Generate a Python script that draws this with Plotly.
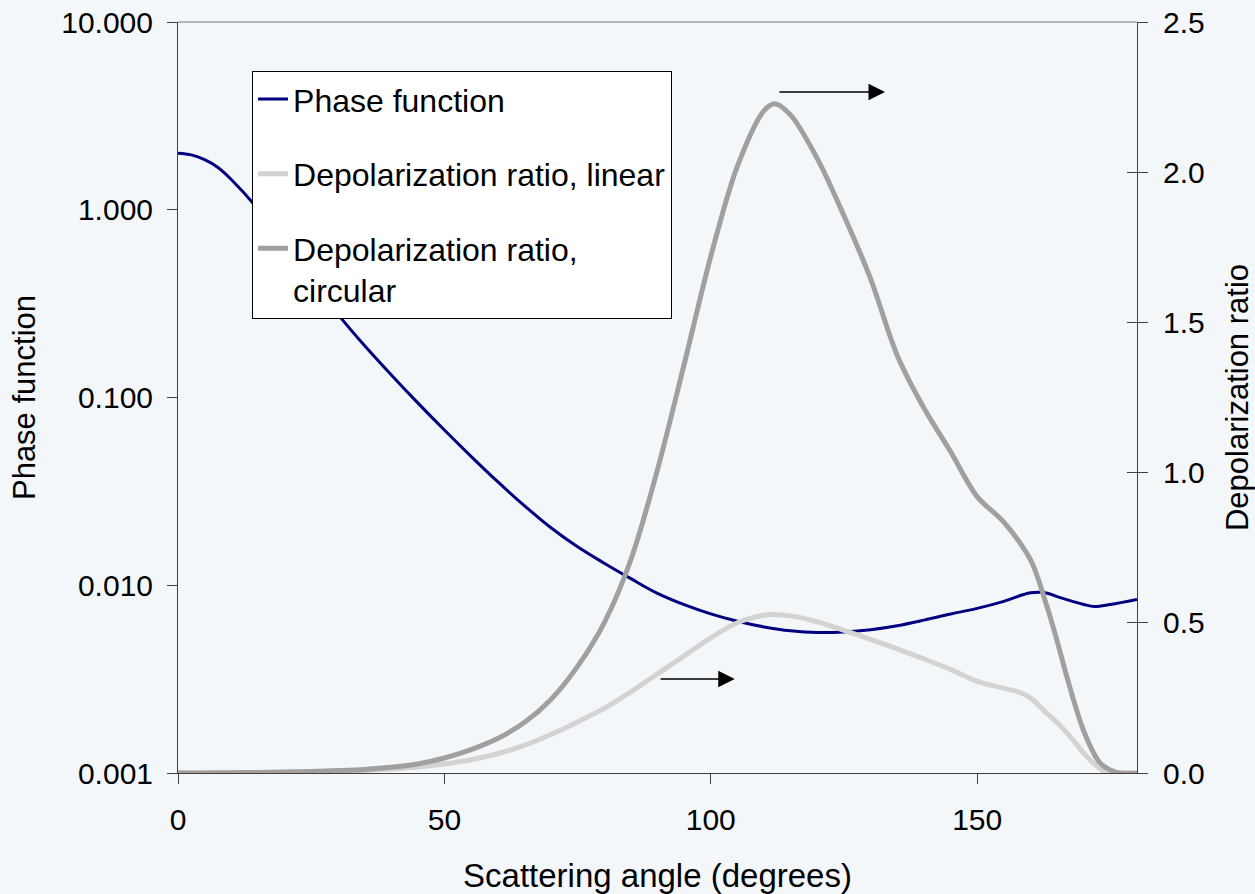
import plotly.graph_objects as go

# ---- data ----
angle_pf = [0, 2.5, 5, 7.5, 10, 15, 20, 25, 30, 35, 40, 45, 50, 55, 60, 65, 70, 75, 80, 85, 90, 95,
            100, 105, 110, 115, 120, 125, 130, 135, 140, 145, 150, 155, 160, 163, 165, 170, 172, 175, 180]
phase_function = [2.0, 1.96, 1.85, 1.68, 1.45, 1.01, 0.655, 0.427, 0.278, 0.189, 0.1322, 0.0936,
                  0.0671, 0.0486, 0.0356, 0.02655, 0.02025, 0.01603, 0.0131, 0.01084, 0.00905,
                  0.00788, 0.00704, 0.00643, 0.0060, 0.00572, 0.0056, 0.00564, 0.0058, 0.00609,
                  0.00652, 0.00703, 0.00753, 0.00821, 0.00911, 0.0091, 0.0087, 0.0079, 0.0077,
                  0.0079, 0.0084]

angle_lin = [0, 10, 20, 30, 35, 40, 45, 50, 55, 60, 65, 70, 75, 80, 85, 90, 95, 100, 105, 110,
             112, 115, 120, 125, 130, 135, 140, 145, 150, 155, 158, 160, 163, 165, 168, 170, 172, 174, 176, 180]
depol_linear = [0.0, 0.001, 0.002, 0.005, 0.008, 0.013, 0.020, 0.030, 0.044, 0.064, 0.092, 0.128,
                0.17, 0.215, 0.27, 0.33, 0.39, 0.45, 0.50, 0.525, 0.528, 0.523, 0.503, 0.475,
                0.445, 0.413, 0.38, 0.345, 0.305, 0.282, 0.268, 0.25, 0.2, 0.168, 0.11, 0.066,
                0.03, 0.005, 0.0, 0.0]

angle_circ = [0, 5, 10, 15, 20, 25, 30, 35, 40, 45, 50, 55, 60, 65, 70, 75, 80, 85, 90, 95, 100,
              105, 110, 112, 115, 120, 125, 130, 135, 140, 145, 150, 155, 160, 163, 165, 167, 170,
              173, 176, 180]
depol_circular = [0.0, 0.0, 0.001, 0.002, 0.003, 0.005, 0.008, 0.012, 0.019, 0.030, 0.050, 0.078,
                  0.115, 0.168, 0.245, 0.355, 0.50, 0.71, 1.01, 1.36, 1.72, 2.02, 2.205, 2.228, 2.19,
                  2.045, 1.855, 1.645, 1.39, 1.215, 1.07, 0.92, 0.835, 0.71, 0.56, 0.44, 0.31, 0.14,
                  0.035, 0.003, 0.0]

left_tickvals = [0.001, 0.01, 0.1, 1, 10]
left_ticktext = ["0.001", "0.010", "0.100", "1.000", "10.000"]

# arrow annotations: (tail x, head x, y on right axis)
arrow_tail_x = [112.6, 90.3]
arrow_head_x = [132.7, 104.5]
arrow_y = [2.267, 0.313]

FONT = "Liberation Sans, Arial, sans-serif"
BG = "#f4f7fa"

fig = go.Figure()
fig.add_trace(go.Scatter(x=angle_pf, y=phase_function, name="Phase function",
                         mode="lines", line=dict(color="#000080", width=3, shape="spline", smoothing=1.0),
                         yaxis="y", legendgroup="a"))
fig.add_trace(go.Scatter(x=angle_lin, y=depol_linear, name="Depolarization ratio, linear",
                         mode="lines", line=dict(color="#d3d3d3", width=5, shape="spline", smoothing=0.9),
                         yaxis="y2", legendgroup="b"))
fig.add_trace(go.Scatter(x=angle_circ, y=depol_circular, name="Depolarization ratio,<br>circular",
                         mode="lines", line=dict(color="#a0a0a0", width=5, shape="spline", smoothing=0.9),
                         yaxis="y2", legendgroup="c"))

for tx, hx, yy in zip(arrow_tail_x, arrow_head_x, arrow_y):
    fig.add_annotation(x=hx, y=yy, ax=tx, ay=yy, xref="x", yref="y2", axref="x", ayref="y2",
                       showarrow=True, arrowhead=2, arrowsize=2.2, arrowwidth=1.5,
                       arrowcolor="black", text="")

# top border of the plot area
fig.add_shape(type="line", xref="paper", yref="paper", x0=0, x1=1, y0=1, y1=1,
              line=dict(color="#a0a0a0", width=1.5))

fig.update_layout(
    width=1255, height=894,
    margin=dict(l=178, r=118, t=22, b=121, autoexpand=False),
    paper_bgcolor=BG, plot_bgcolor=BG,
    font=dict(family=FONT, size=30, color="black"),
    showlegend=True,
    legend=dict(x=0.0772, y=0.935, xanchor="left", yanchor="top",
                bgcolor="white", bordercolor="black", borderwidth=1,
                font=dict(size=32, family=FONT), tracegroupgap=30, valign="top",
                itemwidth=30),
    xaxis=dict(range=[0, 180], tickvals=[0, 50, 100, 150], showgrid=False, zeroline=False,
               showline=True, linecolor="#404040", linewidth=1, ticks="outside", ticklen=10,
               tickcolor="#404040", ticklabelstandoff=10, automargin=False,
               title=dict(text="Scattering angle (degrees)", font=dict(size=33), standoff=30)),
    yaxis=dict(type="log", range=[-3, 1], tickvals=left_tickvals, ticktext=left_ticktext,
               showgrid=False, zeroline=False, showline=True, linecolor="#404040", linewidth=1,
               ticks="outside", ticklen=10, tickcolor="#404040", ticklabelstandoff=8,
               automargin=False,
               title=dict(text="Phase function", font=dict(size=31), standoff=16)),
    yaxis2=dict(range=[0, 2.5], dtick=0.5, tickformat=".1f", overlaying="y", side="right",
                showgrid=False, zeroline=False, showline=True, linecolor="#404040", linewidth=1,
                ticks="outside", ticklen=10, tickcolor="#404040", ticklabelstandoff=9,
                automargin=False,
                title=dict(text="Depolarization ratio", font=dict(size=31), standoff=28)),
    yaxis3=dict(range=[0, 2.5], dtick=0.5, overlaying="y", side="right", showgrid=False,
                zeroline=False, showline=False, ticks="inside", ticklen=10, tickcolor="#404040",
                showticklabels=False, automargin=False),
)
# invisible trace to activate yaxis3 (inside half of the crossing ticks on the right axis)
fig.add_trace(go.Scatter(x=[None], y=[None], yaxis="y3", showlegend=False, hoverinfo="skip"))

fig.write_html("out.html")
